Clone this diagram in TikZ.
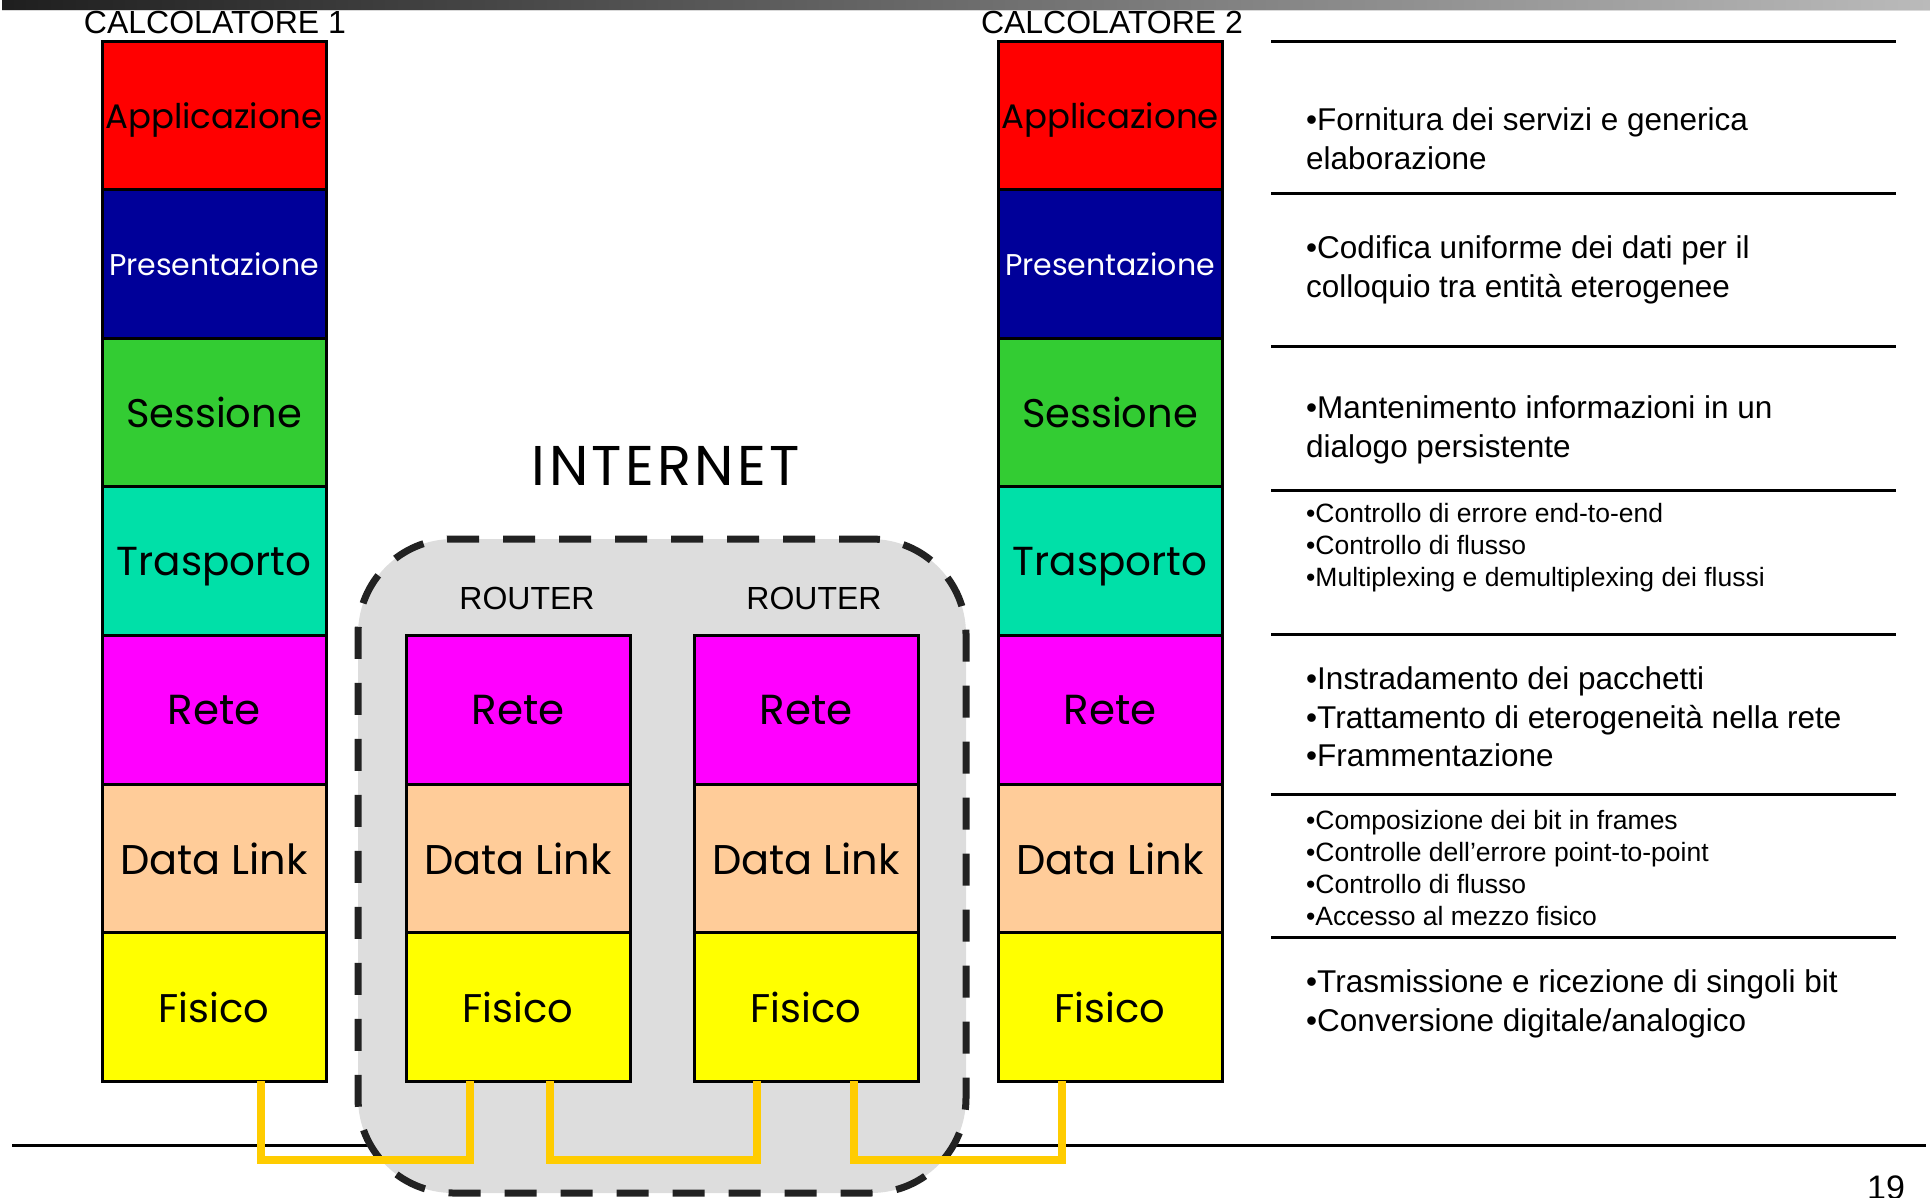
\documentclass[tikz,border=0pt]{standalone}
\usepackage{fontspec}
\setmainfont{Liberation Sans}
\newfontfamily\comic{Poppins}
\newfontfamily\comicwide{Poppins}[LetterSpace=6]
\usetikzlibrary{calc}
\definecolor{cRed}{HTML}{FF0000}
\definecolor{cBlue}{HTML}{000099}
\definecolor{cGreen}{HTML}{33CC33}
\definecolor{cTeal}{HTML}{00E0A8}
\definecolor{cMag}{HTML}{FF00FF}
\definecolor{cPeach}{HTML}{FFCC99}
\definecolor{cYel}{HTML}{FFFF00}
\definecolor{cWire}{HTML}{FFCC00}
\definecolor{cNet}{HTML}{DDDDDD}
\definecolor{cDash}{HTML}{222222}
\tikzset{
  layer/.style={draw=black, line width=3pt, minimum width=224pt, minimum height=148.6pt,
    inner sep=0pt, outer sep=0pt, text depth=0pt},
  wire/.style={draw=cWire, line width=8pt},
  rulel/.style={line width=3pt},
  desc/.style={anchor=west, align=left, inner sep=0pt, font=\fontsize{31.5}{38.5}\selectfont},
  descs/.style={anchor=west, align=left, inner sep=0pt, font=\fontsize{26.5}{32}\selectfont},
  title/.style={inner sep=0pt, font=\fontsize{32}{32}\selectfont},
  netbox/.style={draw=cDash, fill=cNet, line width=7pt, dash pattern=on 32pt off 24pt,
    rounded corners=95pt, minimum width=608pt, minimum height=654pt, inner sep=0pt}
}
\newcommand{\osistack}[3]{% prefix, center x, first layer index
  \foreach \col/\txt/\tc/\fs [count=\i from 0] in
   {cRed/Applicazione/black/34, cBlue/Presentazione/white/30, cGreen/Sessione/black/40,
    cTeal/Trasporto/black/40.5, cMag/Rete/black/42, cPeach/Data Link/black/41.5, cYel/Fisico/black/40}{
    \ifnum\i<#3\else
    \node[layer, fill=\col, text=\tc, font=\comic\fontsize{\fs}{\fs}\selectfont]
      (#1\i) at (#2, {41+148.6*(\i+0.5)}) {\txt};
    \fi
  }}
\begin{document}
\begin{tikzpicture}[x=1pt,y=-1pt]
\useasboundingbox (0,0) rectangle (1930,1197);
% top bar
\shade[left color=black!88, right color=black!27] (2,0) rectangle (1930,9);
\draw[black!15, line width=1.5pt] (2,10.5) -- (1930,10.5);
% bottom rule
\draw[line width=3pt] (12,1145) -- (1926,1145);
% internet box
\node[netbox] (net) at (662,866) {};
\node[inner sep=0pt, font=\comicwide\fontsize{56}{56}\selectfont] (inet) at (666,466) {INTERNET};
% stacks
\osistack{a}{214}{0}
\osistack{b}{1110}{0}
\osistack{r}{518}{4}
\osistack{q}{806}{4}
% titles
\node[title] (t1) at (215,22) {CALCOLATORE 1};
\node[title] (t2) at (1112,22) {CALCOLATORE 2};
\node[title] (rt1) at (527,598) {ROUTER};
\node[title] (rt2) at (814,598) {ROUTER};
% wires
\draw[wire] ([xshift=47pt]a6.south) -- ++(0,79) -| ([xshift=-48pt]r6.south);
\draw[wire] ([xshift=32pt]r6.south) -- ++(0,79) -| ([xshift=-49pt]q6.south);
\draw[wire] ([xshift=48pt]q6.south) -- ++(0,79) -| ([xshift=-48pt]b6.south);
% right rules
\foreach \yy in {41,193,346,490,634,794,937}{\draw[rulel] (1271,\yy) -- (1896,\yy);}
% descriptions
\node[desc] (d1) at (1306,138.5) {•Fornitura dei servizi e generica\\elaborazione};
\node[desc] (d2) at (1306,270) {•Codifica uniforme dei dati per il\\colloquio tra entità eterogenee};
\node[desc] (d3) at (1306,430) {•Mantenimento informazioni in un\\dialogo persistente};
\node[descs] (d4) at (1306,548) {•Controllo di errore end-to-end\\•Controllo di flusso\\•Multiplexing e demultiplexing dei flussi};
\node[desc] (d5) at (1306,717) {•Instradamento dei pacchetti\\•Trattamento di eterogeneità nella rete\\•Frammentazione};
\node[descs] (d6) at (1306,868) {•Composizione dei bit in frames\\•Controlle dell’errore point-to-point\\•Controllo di flusso\\•Accesso al mezzo fisico};
\node[desc] (d7) at (1306,1004) {•Trasmissione e ricezione di singoli bit\\•Conversione digitale/analogico};
% page number
\node[anchor=north, inner sep=0pt, font=\fontsize{34}{34}\selectfont] (pg) at (1886,1176) {19};
\end{tikzpicture}
\end{document}
